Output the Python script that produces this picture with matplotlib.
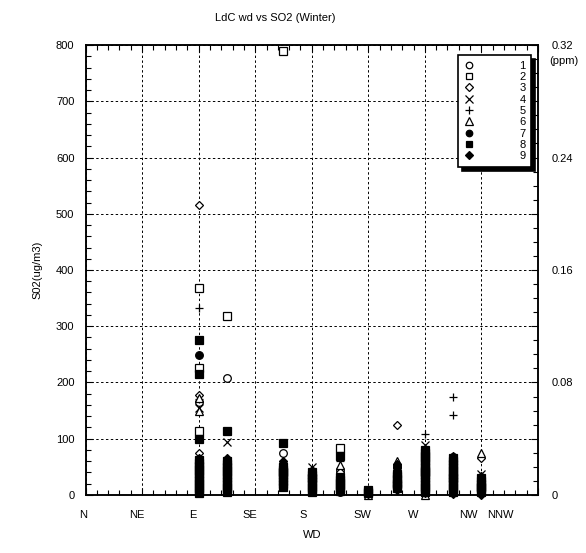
import matplotlib
matplotlib.use("Agg")
import matplotlib.pyplot as plt
from matplotlib.ticker import MultipleLocator

plt.rcParams['font.family'] = ['Liberation Sans', 'DejaVu Sans']

# wind direction labels and where they sit under the axis (degrees)
wd_names = ['N', 'NE', 'E', 'SE', 'S', 'SW', 'W', 'NW', 'NNW']
wd_label_pos = [-2, 41, 85, 131, 173, 220, 261, 305, 330]

# one (wd, so2) pair list per station
wd_1 = [90, 90, 90, 112.5, 112.5, 157.5, 157.5, 180, 202.5, 225, 247.5, 247.5, 270, 270, 292.5, 315]
so2_1 = [165, 45, 20, 208, 60, 75, 30, 20, 45, 0, 30, 50, 60, 20, 40, 10]

wd_2 = [90, 90, 90, 112.5, 157.5, 157.5, 180, 202.5, 225, 247.5, 270, 292.5, 315]
so2_2 = [368, 225, 113, 318, 790, 40, 30, 83, 5, 20, 40, 30, 15]

wd_3 = [90, 90, 90, 112.5, 157.5, 180, 202.5, 225, 247.5, 270, 292.5, 315, 315]
so2_3 = [515, 178, 75, 55, 35, 15, 40, 3, 125, 30, 50, 65, 0]

wd_4 = [90, 90, 112.5, 157.5, 180, 202.5, 225, 247.5, 270, 292.5, 315]
so2_4 = [155, 40, 95, 50, 50, 25, 8, 35, 88, 55, 38]

wd_5 = [90, 90, 90, 112.5, 157.5, 180, 202.5, 225, 247.5, 270, 292.5, 292.5, 315]
so2_5 = [333, 170, 60, 30, 60, 35, 60, 5, 45, 108, 175, 143, 25]

wd_6 = [90, 90, 112.5, 157.5, 180, 202.5, 225, 247.5, 270, 270, 292.5, 315]
so2_6 = [172, 150, 45, 25, 40, 53, 0, 60, 0, 70, 65, 75]

wd_7 = [90, 90, 90, 90, 112.5, 112.5, 157.5, 157.5, 180, 180, 202.5, 202.5, 225,
        247.5, 247.5, 270, 270, 270, 292.5, 292.5, 292.5, 315, 315]
so2_7 = [249, 55, 30, 10, 50, 20, 55, 30, 35, 10, 20, 5, 5,
         50, 25, 75, 50, 25, 68, 40, 15, 28, 12]

wd_8 = ([90] * 16 + [112.5] * 13 + [157.5] * 9 + [180] * 8 + [202.5] * 7 + [225] * 2
        + [247.5] * 6 + [270] * 16 + [292.5] * 13 + [315] * 6)
so2_8 = [275, 215, 100, 62, 57, 52, 47, 42, 37, 32, 27, 22, 17, 12, 7, 3,
         113, 60, 55, 50, 45, 40, 35, 30, 25, 20, 15, 10, 6,
         92, 50, 45, 40, 35, 30, 25, 20, 15,
         40, 35, 30, 25, 20, 15, 10, 5,
         70, 32, 27, 22, 17, 12, 7,
         8, 4,
         38, 33, 28, 22, 17, 12,
         80, 75, 70, 65, 60, 55, 50, 45, 40, 35, 30, 25, 20, 15, 10, 5,
         65, 60, 55, 50, 45, 40, 35, 30, 25, 20, 15, 10, 5,
         30, 25, 20, 15, 10, 5]

wd_9 = [90, 90, 90, 90, 112.5, 112.5, 112.5, 157.5, 157.5, 180, 180, 202.5, 202.5, 225,
        247.5, 247.5, 270, 270, 270, 292.5, 292.5, 315, 315]
so2_9 = [65, 45, 25, 5, 65, 40, 10, 60, 20, 45, 5, 30, 10, 2,
         55, 8, 78, 35, 3, 70, 2, 33, 2]

series = [
    (wd_1, so2_1, 'o', 'white', '1'),
    (wd_2, so2_2, 's', 'white', '2'),
    (wd_3, so2_3, 'D', 'white', '3'),
    (wd_4, so2_4, 'x', 'black', '4'),
    (wd_5, so2_5, '+', 'black', '5'),
    (wd_6, so2_6, '^', 'white', '6'),
    (wd_7, so2_7, 'o', 'black', '7'),
    (wd_8, so2_8, 's', 'black', '8'),
    (wd_9, so2_9, 'D', 'black', '9'),
]

fig = plt.figure(figsize=(5.86, 5.53), dpi=100)
ax = fig.add_axes([0.146, 0.105, 0.772, 0.8135])

for wd, so2, mk, fc, lab in series:
    sz = {'D': 4.5, 's': 5.5, 'o': 5.5}.get(mk, 6)
    ax.plot(wd, so2, linestyle='none', marker=mk, ms=sz, mfc=fc, mec='black',
            mew=0.9, label=lab, clip_on=False, zorder=3)

ax.set_xlim(0, 360)
ax.set_ylim(0, 800)
ax.xaxis.set_major_locator(MultipleLocator(45))
ax.xaxis.set_minor_locator(MultipleLocator(9))
ax.yaxis.set_major_locator(MultipleLocator(100))
ax.yaxis.set_minor_locator(MultipleLocator(20))
ax.tick_params(which='both', direction='in', top=True, right=False, width=0.8)
ax.tick_params(which='major', length=5)
ax.tick_params(which='minor', length=3.5)
ax.tick_params(axis='x', labelbottom=False)
ax.tick_params(axis='y', labelsize=8, pad=8)
ax.grid(True, which='major', color='black', linestyle=(0, (2.5, 2.5)), linewidth=0.7)
for sp in ax.spines.values():
    sp.set_linewidth(1.1)

for name, pos in zip(wd_names, wd_label_pos):
    ax.text(pos, -0.045, name, transform=ax.get_xaxis_transform(),
            ha='center', va='center', fontsize=8)

ax.set_xlabel('WD', fontsize=8, labelpad=22)
ax.set_ylabel('S02(ug/m3)', fontsize=8, labelpad=10)

# right axis in ppm
ax2 = ax.twinx()
ax2.set_ylim(0, 0.32)
ax2.yaxis.set_major_locator(MultipleLocator(0.04))
ax2.yaxis.set_minor_locator(MultipleLocator(0.01))
ax2.yaxis.set_major_formatter(plt.FuncFormatter(
    lambda v, p: ('0' if abs(v) < 1e-9 else '%.2f' % v) if round(v / 0.04) % 2 == 0 else ''))
ax2.tick_params(which='both', direction='in', width=0.8, labelsize=8, pad=10)
ax2.tick_params(which='major', length=5)
ax2.tick_params(which='minor', length=3.5)
for sp in ax2.spines.values():
    sp.set_linewidth(1.1)
ax2.text(1.025, 0.975, '(ppm)', transform=ax.transAxes, fontsize=8, va='top', ha='left')

leg = ax.legend(loc='upper right', bbox_to_anchor=(0.985, 0.978), borderaxespad=0,
                fontsize=8, markerfirst=True, handlelength=1.0, handletextpad=4.0,
                labelspacing=0.12, borderpad=0.5, fancybox=False,
                edgecolor='black', framealpha=1, markerscale=0.85,
                shadow={'color': 'black', 'alpha': 1, 'ox': 3, 'oy': -3})
leg.get_frame().set_linewidth(1.2)
leg.set_zorder(10)

fig.text(0.469, 0.967, 'LdC wd vs SO2 (Winter)', ha='center', va='center', fontsize=8)

fig.savefig('out.png', dpi=100)
